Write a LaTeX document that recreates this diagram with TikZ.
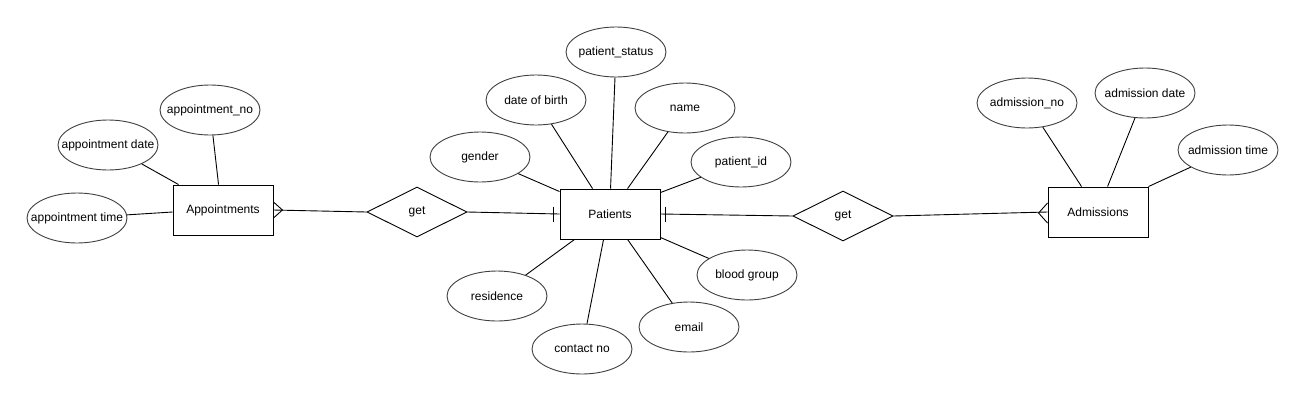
\documentclass[tikz,border=0pt]{standalone}
\usepackage{fontspec}
\setmainfont{Liberation Sans}
\usetikzlibrary{shapes.geometric}
\begin{document}
\begin{tikzpicture}[x=1pt,y=-1pt,
  every node/.style={font=\fontsize{12}{14}\selectfont},
  ln/.style={draw=black,line width=0.9pt},
  ent/.style={ln,rectangle,minimum width=100pt,minimum height=50pt,inner sep=0pt,fill=white},
  attr/.style={draw=black!75,line width=0.9pt,ellipse,minimum width=100pt,minimum height=50pt,inner sep=0pt,fill=white},
  rel/.style={ln,diamond,minimum width=100pt,minimum height=50pt,inner sep=0pt,fill=white},
  conn/.style={ln}
]
\fill[white] (0,0) rectangle (1304,400);
\useasboundingbox (0,0) rectangle (1304,400);

% entities
\node[ent] (app) at (223,210) {Appointments};
\node[ent] (pat) at (610,214) {Patients};
\node[ent] (adm) at (1098,212) {Admissions};

% relationships
\node[rel] (get1) at (417,212) {get};
\node[rel] (get2) at (843,216) {get};

% appointment attributes
\node[attr] (apno) at (210,110) {\makebox[0pt]{appointment\_no}};
\node[attr] (apdate) at (108,145) {\makebox[0pt]{appointment date}};
\node[attr] (aptime) at (77,218) {\makebox[0pt]{appointment time}};

% patient attributes
\node[attr] (pstat) at (616,52) {\makebox[0pt]{patient\_status}};
\node[attr] (dob) at (536,100) {\makebox[0pt]{date of birth}};
\node[attr] (pname) at (685,108) {\makebox[0pt]{name}};
\node[attr] (gender) at (480,157) {\makebox[0pt]{gender}};
\node[attr] (pid) at (741,162) {\makebox[0pt]{patient\_id}};
\node[attr] (blood) at (747,275) {\makebox[0pt]{blood group}};
\node[attr] (email) at (689,327) {\makebox[0pt]{email}};
\node[attr] (contact) at (582,349) {\makebox[0pt]{contact no}};
\node[attr] (resid) at (497,296) {\makebox[0pt]{residence}};

% admission attributes
\node[attr] (adno) at (1027,103) {\makebox[0pt]{admission\_no}};
\node[attr] (addate) at (1145,93) {\makebox[0pt]{admission date}};
\node[attr] (adtime) at (1228,150) {\makebox[0pt]{admission time}};

% attribute links: appointments
\draw[conn] (apno) -- ([xshift=46pt]app.north west);
\draw[conn] (apdate) -- ([xshift=6pt]app.north west);
\draw[conn] (aptime) -- ([yshift=-2pt]app.west);

% attribute links: patients
\draw[conn] (gender) -- ([yshift=-3pt]pat.north west);
\draw[conn] (dob) -- ([xshift=33pt]pat.north west);
\draw[conn] (pstat) -- ([xshift=51pt]pat.north west);
\draw[conn] (pname) -- ([xshift=68pt]pat.north west);
\draw[conn] (pid) -- ([yshift=-4pt]pat.north east);
\draw[conn] (blood) -- ([yshift=2pt]pat.south east);
\draw[conn] (email) -- ([xshift=68pt]pat.south west);
\draw[conn] (contact) -- ([xshift=44pt]pat.south west);
\draw[conn] (resid) -- ([xshift=15pt]pat.south west);

% attribute links: admissions
\draw[conn] (adno) -- ([xshift=34pt]adm.north west);
\draw[conn] (addate) -- ([xshift=60pt]adm.north west);
\draw[conn] (adtime) -- (adm.north east);

% relationship links
\draw[conn] (app.east) -- (get1.west);
\draw[conn] (get1.east) -- (pat.west);
\draw[conn] (pat.east) -- (get2.west);
\draw[conn] (get2.east) -- (adm.west);

% crow's foot (many) at Appointments
\draw[conn] ([yshift=8pt]app.east) -- ([xshift=9pt]app.east) -- ([yshift=-8pt]app.east);
% crow's foot (many) at Admissions
\draw[conn] ([yshift=9pt]adm.west) -- ([xshift=-9pt,yshift=-1pt]adm.west) -- ([yshift=-11pt]adm.west);
% one bars at Patients
\draw[conn] ([xshift=-6pt,yshift=7.5pt]pat.west) -- ([xshift=-6pt,yshift=-7.5pt]pat.west);
\draw[conn] ([xshift=5pt,yshift=7.5pt]pat.east) -- ([xshift=5pt,yshift=-7.5pt]pat.east);
\end{tikzpicture}
\end{document}
